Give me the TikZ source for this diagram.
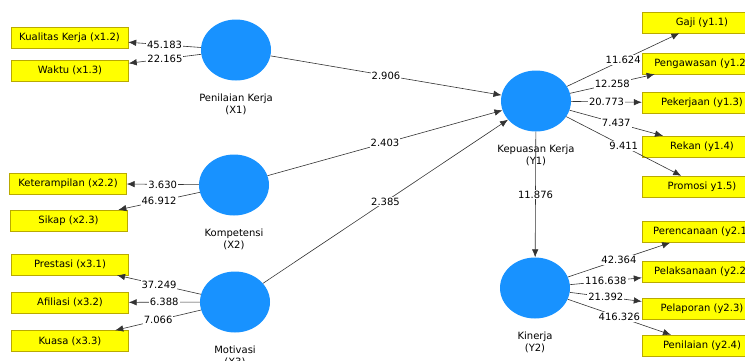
\documentclass[tikz,border=0pt]{standalone}
\usepackage{fontspec}
\setmainfont{DejaVu Sans}
\usepackage{tikz}
\usetikzlibrary{shapes.geometric,arrows.meta}
\definecolor{lvblue}{RGB}{24,146,255}
\definecolor{indyellow}{RGB}{255,255,0}
\definecolor{indborder}{RGB}{185,170,0}

\begin{document}
\begin{tikzpicture}[x=1pt,y=-1pt,
  latent/.style={ellipse,fill=lvblue,minimum width=70pt,minimum height=61pt,inner sep=0pt},
  lvname/.style={align=center,yshift=-10pt},
  ind/.style={rectangle,draw=indborder,fill=indyellow,minimum width=117pt,minimum height=21pt,inner sep=0pt},
  indr/.style={ind,minimum width=120pt},
  link/.style={draw=black!80,line width=0.6pt,-{Latex[length=8pt,width=6.5pt]}},
  wt/.style={fill=white,inner sep=1pt,pos=0.5}]
\clip (0,0) rectangle (745,360);
% latent variables
\node[latent,label={[lvname]below:Penilaian Kerja\\(X1)}] (x1) at (236,50) {};
\node[latent,label={[lvname]below:Kompetensi\\(X2)}] (x2) at (234,185) {};
\node[latent,label={[lvname]below:Motivasi\\(X3)}] (x3) at (235,302) {};
\node[latent,label={[lvname]below:Kepuasan Kerja\\(Y1)}] (y1) at (536,101) {};
\node[latent,label={[lvname]below:Kinerja\\(Y2)}] (y2) at (535,288) {};
% indicators
\node[ind] (kual) at (69.5,38) {Kualitas Kerja (x1.2)};
\node[ind] (waktu) at (70,70.5) {Waktu (x1.3)};
\node[ind] (ketr) at (68,183.5) {Keterampilan (x2.2)};
\node[ind] (sikap) at (68.5,220.5) {Sikap (x2.3)};
\node[ind] (prest) at (70,264.5) {Prestasi (x3.1)};
\node[ind] (afil) at (70,302.5) {Afiliasi (x3.2)};
\node[ind] (kuasa) at (70,341) {Kuasa (x3.3)};
\node[indr] (gaji) at (702,22.5) {Gaji (y1.1)};
\node[indr] (pengaw) at (702,63.5) {Pengawasan (y1.2)};
\node[indr] (pekerj) at (702,103) {Pekerjaan (y1.3)};
\node[indr] (rekan) at (702,146.5) {Rekan (y1.4)};
\node[indr] (promosi) at (702,186.5) {Promosi y1.5)};
\node[indr] (perenc) at (702,232) {Perencanaan (y2.1)};
\node[indr] (pelaks) at (702,272) {Pelaksanaan (y2.2)};
\node[indr] (pelap) at (702,309) {Pelaporan (y2.3)};
\node[indr] (penil) at (702,345.5) {Penilaian (y2.4)};
% outer model
\draw[link] (x1) -- node[wt]{45.183} (kual);
\draw[link] (x1) -- node[wt]{22.165} (waktu);
\draw[link] (x2) -- node[wt]{3.630} (ketr);
\draw[link] (x2) -- node[wt]{46.912} (sikap);
\draw[link] (x3) -- node[wt]{37.249} (prest);
\draw[link] (x3) -- node[wt]{6.388} (afil);
\draw[link] (x3) -- node[wt]{7.066} (kuasa);
\draw[link] (y1) -- node[wt]{11.624} (gaji);
\draw[link] (y1) -- node[wt]{12.258} (pengaw);
\draw[link] (y1) -- node[wt]{20.773} (pekerj);
\draw[link] (y1) -- node[wt]{7.437} (rekan);
\draw[link] (y1) -- node[wt]{9.411} (promosi);
\draw[link] (y2) -- node[wt]{42.364} (perenc);
\draw[link] (y2) -- node[wt]{116.638} (pelaks);
\draw[link] (y2) -- node[wt]{21.392} (pelap);
\draw[link] (y2) -- node[wt]{416.326} (penil);
% inner model
\draw[link] (x1) -- node[wt]{2.906} (y1);
\draw[link] (x2) -- node[wt]{2.403} (y1);
\draw[link] (x3) -- node[wt]{2.385} (y1);
\draw[link] (y1) -- node[wt]{11.876} (y2);
\end{tikzpicture}
\end{document}
